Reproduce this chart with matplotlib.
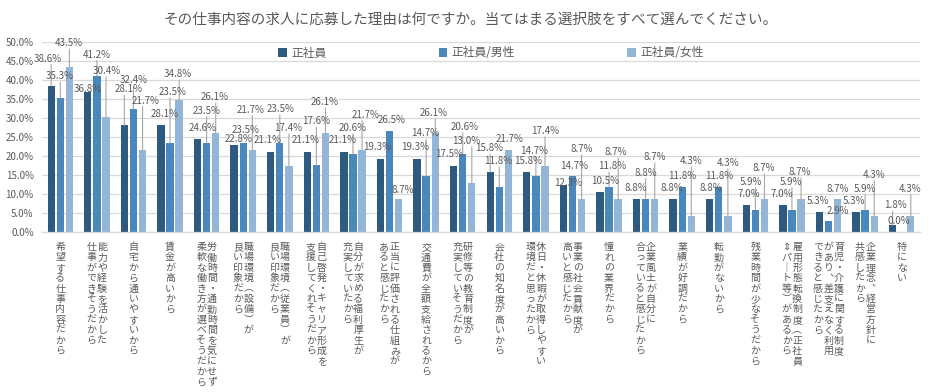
import matplotlib
matplotlib.use("Agg")
import matplotlib.pyplot as plt
from matplotlib.patches import Patch
import numpy as np

plt.rcParams['font.family'] = ['Noto Sans CJK JP', 'DejaVu Sans']

title = "その仕事内容の求人に応募した理由は何ですか。当てはまる選択肢をすべて選んでください。"
series_names = ["正社員", "正社員/男性", "正社員/女性"]
categories = [
    "希望する仕事内容だから",
    "能力や経験を活かした\n仕事ができそうだから",
    "自宅から通いやすいから",
    "賃金が高いから",
    "労働時間・通勤時間を気にせず\n柔軟な働き方が選べそうだから",
    "職場環境（設備）が\n良い印象だから",
    "職場環境（従業員）が\n良い印象だから",
    "自己啓発・キャリア形成を\n支援してくれそうだから",
    "自分が求める福利厚生が\n充実していたから",
    "正当に評価される仕組みが\nあると感じたから",
    "交通費が全額支給されるから",
    "研修等の教育制度が\n充実していそうだから",
    "会社の知名度が高いから",
    "休日・休暇が取得しやすい\n環境だと思ったから",
    "事業の社会貢献度が\n高いと感じたから",
    "憧れの業界だから",
    "企業風土が自分に\n合っていると感じたから",
    "業績が好調だから",
    "転勤がないから",
    "残業時間が少なそうだから",
    "雇用形態転換制度（正社員\n⇔パート等）があるから",
    "育児・介護に関する制度\nがあり、差支えなく利用\nできると感じたから",
    "企業理念、経営方針に\n共感したから",
    "特にない",
]
all_emp = [38.6, 36.8, 28.1, 28.1, 24.6, 22.8, 21.1, 21.1, 21.1, 19.3, 19.3, 17.5,
           15.8, 15.8, 12.3, 10.5, 8.8, 8.8, 8.8, 7.0, 7.0, 5.3, 5.3, 1.8]
male = [35.3, 41.2, 32.4, 23.5, 23.5, 23.5, 23.5, 17.6, 20.6, 26.5, 14.7, 20.6,
        11.8, 14.7, 14.7, 11.8, 8.8, 11.8, 11.8, 5.9, 5.9, 2.9, 5.9, 0.0]
female = [43.5, 30.4, 21.7, 34.8, 26.1, 21.7, 17.4, 26.1, 21.7, 8.7, 26.1, 13.0,
          21.7, 17.4, 8.7, 8.7, 8.7, 4.3, 4.3, 8.7, 8.7, 8.7, 4.3, 4.3]
yticks = [0, 5, 10, 15, 20, 25, 30, 35, 40, 45, 50]

# label placement offsets in pixels (dx, dy) relative to bar top, per series
off_all = [(-3, 27), (0, 3), (4, 36), (4, 11), (5, 11), (4, 6), (-3, 12), (-2, 12),
           (-1, 12), (-3, 12), (-2, 12), (-5, 12), (-1, 24), (1, 11), (5, 2), (5, 11),
           (-1, 11), (-1, 11), (1, 11), (2, 11), (-1, 11), (-1, 11), (-2, 11), (3, 20)]
off_male = [(-1, 22), (0, 21), (0, 29), (3, 51), (0, 32), (2, 13), (1, 34), (0, 44),
            (0, 26), (2, 11), (-1, 43), (2, 27), (-1, 26), (-2, 25), (2, 10), (3, 21),
            (0, 26), (0, 11), (0, 11), (-4, 28), (-1, 28), (9, 10), (0, 21), (-3, 11)]
off_female = [(-1, 24), (1, 46), (3, 49), (-1, 26), (-1, 36), (-2, 40), (-1, 38), (-1, 31),
              (4, 35), (4, 9), (-2, 20), (-6, 42), (1, 11), (0, 35), (0, 50), (-2, 47),
              (0, 42), (0, 55), (0, 53), (-1, 31), (-1, 27), (0, 10), (0, 41), (-1, 27)]

colors = ['#2F5A80', '#4A87BD', '#94B6D6']
text_color = '#595959'
grid_color = '#D9D9D9'

W, H = 949, 392
fig = plt.figure(figsize=(W / 100, H / 100), dpi=100)
ax = fig.add_axes([42 / W, 160 / H, 878 / W, 189.7 / H])

x = np.arange(len(categories))
series = [all_emp, male, female]
offsets = [off_all, off_male, off_female]
shift = 0.249
bw = 0.2
for s, (vals, col) in enumerate(zip(series, colors)):
    xs = x + (s - 1) * shift
    ax.bar(xs, vals, width=bw, color=col, zorder=2)
    for xi, v, (dx, dy) in zip(xs, vals, offsets[s]):
        if dy >= 18:
            ax.annotate('', xy=(xi, v), xytext=(0, dy - 6), textcoords='offset pixels',
                        arrowprops=dict(arrowstyle='-', color='#A6A6A6', lw=0.8,
                                        shrinkA=0, shrinkB=0), zorder=3,
                        annotation_clip=False)
        ax.annotate(f"{v:.1f}%", xy=(xi, v), xytext=(dx, dy), textcoords='offset pixels',
                    ha='center', va='center', fontsize=7, color=text_color, zorder=4,
                    annotation_clip=False)

ax.set_xlim(-0.5, len(categories) - 0.5)
ax.set_ylim(0, 50)
ax.set_yticks(yticks)
ax.set_yticklabels([f"{v:.1f}%" for v in yticks])
ax.tick_params(axis='y', length=0, pad=6, labelsize=7, labelcolor=text_color)
ax.set_xticks([])
ax.grid(axis='y', color=grid_color, lw=0.9, zorder=0)
ax.set_axisbelow(True)
for sp in ['top', 'right', 'left']:
    ax.spines[sp].set_visible(False)
ax.spines['bottom'].set_color(grid_color)
ax.spines['bottom'].set_linewidth(0.9)

# vertical (tategaki) category labels
vert_map = {"（": "︵", "）": "︶", "、": "︑", "ー": "｜", "⇔": "⇕"}
col_gap = 10.5
pitch = 10.4
for i, cat in enumerate(categories):
    cols = cat.split("\n")
    n = len(cols)
    for c, col in enumerate(cols):
        xo = ((n - 1) / 2 - c) * col_gap
        for k, ch in enumerate(col):
            ch = vert_map.get(ch, ch)
            ax.annotate(ch, xy=(i, 0), xytext=(xo, -15 - k * pitch),
                        textcoords='offset pixels', ha='center', va='center',
                        fontsize=7.2, color=text_color, annotation_clip=False)

fig.text(0.496, 1 - 20 / H, title, ha='center', va='center', fontsize=10.5, color=text_color)

handles = [Patch(facecolor=c, edgecolor='none') for c in colors]
fig.legend(handles, series_names, loc='center', bbox_to_anchor=(491 / W, 1 - 53 / H),
           ncol=3, frameon=False, fontsize=8.5, handlelength=0.7, handleheight=0.7,
           handletextpad=0.4, columnspacing=9.5, labelcolor=text_color)

fig.savefig("out.png", dpi=100)
